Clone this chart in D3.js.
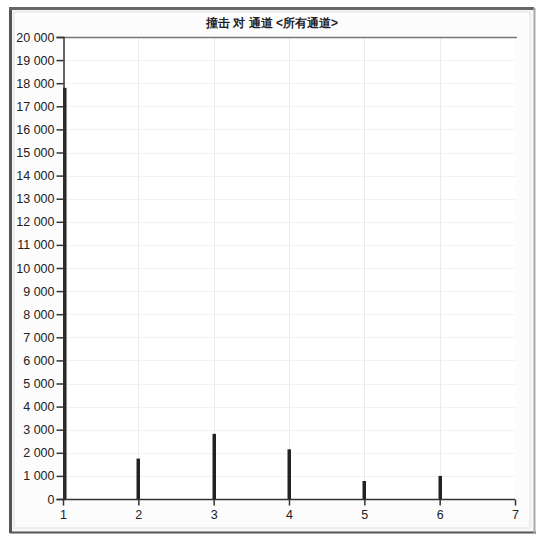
<!DOCTYPE html>
<html>
<head>
<meta charset="utf-8" />
<title>撞击 对 通道</title>
<style>
  body { margin: 0; background: #fff; }
  text { font-family: "Liberation Sans", Arial, sans-serif; }
</style>
<script src="https://d3js.org/d3.v7.min.js"></script>
</head>
<body>
<script>
  // data
  var channels = [1, 2, 3, 4, 5, 6];
  var hits = [17800, 1750, 2820, 2150, 780, 1000];
  var xTicks = [1, 2, 3, 4, 5, 6, 7];
  var yTicks = d3.range(0, 20001, 1000);
  var title = "撞击 对 通道 <所有通道>";

  var width = 542, height = 536;
  var svg = d3.select("body").append("svg")
      .attr("width", width)
      .attr("height", height);

  // window frame
  svg.append("rect").attr("x", 9).attr("y", 7).attr("width", 526).attr("height", 526)
      .attr("fill", "#f7f7f7").attr("stroke", "none");
  svg.append("rect").attr("x", 14).attr("y", 12).attr("width", 516).attr("height", 516)
      .attr("fill", "#fcfcfc").attr("stroke", "#e2e2e2");
  svg.append("line").attr("x1", 10.5).attr("y1", 7).attr("x2", 10.5).attr("y2", 533)
      .attr("stroke", "#555").attr("stroke-width", 3);
  svg.append("line").attr("x1", 9).attr("y1", 8.5).attr("x2", 534).attr("y2", 8.5)
      .attr("stroke", "#666").attr("stroke-width", 3);
  svg.append("line").attr("x1", 10).attr("y1", 532.5).attr("x2", 536).attr("y2", 532.5)
      .attr("stroke", "#555").attr("stroke-width", 2);
  svg.append("line").attr("x1", 534.5).attr("y1", 8).attr("x2", 534.5).attr("y2", 533)
      .attr("stroke", "#aaa").attr("stroke-width", 2);

  var x = d3.scaleLinear().domain([1, 7]).range([63, 515]);
  var y = d3.scaleLinear().domain([0, 20000]).range([499, 37]);

  // plot area
  svg.append("rect").attr("x", x(1)).attr("y", y(20000))
      .attr("width", x(7) - x(1)).attr("height", y(0) - y(20000))
      .attr("fill", "#fff");

  // grid
  svg.append("g").selectAll("line").data(yTicks.slice(1, -1)).enter().append("line")
      .attr("x1", x(1)).attr("x2", x(7))
      .attr("y1", function(d){ return Math.round(y(d)) + 0.5; })
      .attr("y2", function(d){ return Math.round(y(d)) + 0.5; })
      .attr("stroke", "#f2f2f2");
  svg.append("g").selectAll("line").data(xTicks.slice(1, -1)).enter().append("line")
      .attr("x1", function(d){ return Math.round(x(d)) + 0.5; })
      .attr("x2", function(d){ return Math.round(x(d)) + 0.5; })
      .attr("y1", y(20000)).attr("y2", y(0))
      .attr("stroke", "#ebebeb");

  // top border of plot
  svg.append("line").attr("x1", x(1)).attr("x2", x(7) + 2)
      .attr("y1", y(20000) + 0.5).attr("y2", y(20000) + 0.5)
      .attr("stroke", "#777").attr("stroke-width", 1.5);

  // bars
  svg.append("g").selectAll("rect").data(channels).enter().append("rect")
      .attr("x", function(d){ return Math.round(x(d)) - (d == 1 ? 0 : 1.5); })
      .attr("width", 3.5)
      .attr("y", function(d, i){ return y(hits[i]); })
      .attr("height", function(d, i){ return y(0) - y(hits[i]); })
      .attr("fill", "#222");

  var fmt = function(d){ return d3.format(",")(d).replace(/,/g, " "); };

  // y axis
  var yAxis = svg.append("g")
      .attr("transform", "translate(" + (x(1) + 0.5) + ",0)")
      .call(d3.axisLeft(y).tickValues(yTicks).tickSize(7).tickPadding(2).tickFormat(fmt));
  yAxis.selectAll("text").attr("font-size", 12.5).attr("fill", "#222")
      .attr("font-family", "'Liberation Sans', Arial, sans-serif");
  yAxis.selectAll("line, path").attr("stroke", "#333").attr("stroke-width", 1.5);

  // x axis
  var xAxis = svg.append("g")
      .attr("transform", "translate(0," + (y(0) + 0.5) + ")")
      .call(d3.axisBottom(x).tickValues(xTicks).tickSize(6).tickPadding(5).tickFormat(d3.format("d")));
  xAxis.selectAll("text").attr("font-size", 12.5).attr("fill", "#222")
      .attr("font-family", "'Liberation Sans', Arial, sans-serif");
  xAxis.selectAll("line, path").attr("stroke", "#333").attr("stroke-width", 1.5);
  xAxis.select("path").attr("d", "M" + x(1) + ",0H" + x(7));

  // title
  svg.append("text")
      .attr("x", 272).attr("y", 27)
      .attr("text-anchor", "middle")
      .attr("font-size", 12).attr("font-weight", "bold")
      .attr("font-family", "'Noto Sans CJK SC', sans-serif")
      .attr("fill", "#222")
      .text(title);
</script>
</body>
</html>
